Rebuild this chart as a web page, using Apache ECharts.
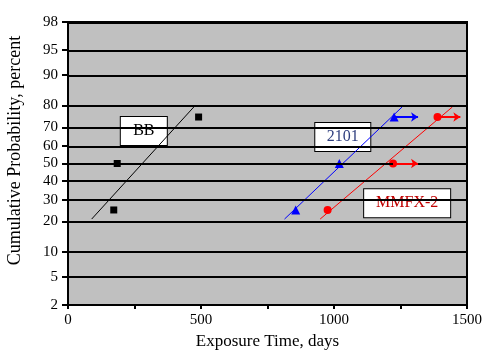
<!DOCTYPE html>
<html>
<head>
<meta charset="utf-8" />
<title>Cumulative Probability</title>
<script type="text/javascript" src="https://cdn.jsdelivr.net/npm/echarts@6/dist/echarts.min.js"></script>
<style>
  html, body { margin: 0; padding: 0; background: #fff; }
  #main { width: 493px; height: 353px; }
</style>
</head>
<body>
<div id="main"></div>
<script>
// 概率刻度 (percent)
var probTicks = [2, 5, 10, 20, 30, 40, 50, 60, 70, 80, 90, 95, 98];

// BB 数据
var bbTime = [172, 185, 491];
var bbProb = [25, 50, 75];
var bbFitTime = [89, 473];
var bbFitProb = [21, 79.4];

// 2101 数据
var t2101Time = [856, 1020, 1226];
var t2101Prob = [25, 50, 75];
var t2101FitTime = [814, 1256];
var t2101FitProb = [21, 79.4];
var t2101ArrowFrom = [1226];
var t2101ArrowTo = [1316];
var t2101ArrowProb = [75];

// MMFX-2 数据
var mmfxTime = [976, 1222, 1389];
var mmfxProb = [25, 50, 75];
var mmfxFitTime = [948, 1445];
var mmfxFitProb = [21, 79.4];
var mmfxArrowFrom = [1222, 1389];
var mmfxArrowTo = [1316, 1475];
var mmfxArrowProb = [50, 75];

// 正态概率纸: percent -> z (Acklam 近似)
function probit(pc) {
  var p = pc / 100;
  var a = [-3.969683028665376e+01, 2.209460984245205e+02, -2.759285104469687e+02, 1.383577518672690e+02, -3.066479806614716e+01, 2.506628277459239e+00];
  var b = [-5.447609879822406e+01, 1.615858368580409e+02, -1.556989798598866e+02, 6.680131188771972e+01, -1.328068155288572e+01];
  var c = [-7.784894002430293e-03, -3.223964580411365e-01, -2.400758277161838e+00, -2.549732539343734e+00, 4.374664141464968e+00, 2.938163982698783e+00];
  var d = [7.784695709041462e-03, 3.224671290700398e-01, 2.445134137142996e+00, 3.754408661907416e+00];
  var pl = 0.02425, q, r;
  if (p < pl) {
    q = Math.sqrt(-2 * Math.log(p));
    return (((((c[0]*q+c[1])*q+c[2])*q+c[3])*q+c[4])*q+c[5]) / ((((d[0]*q+d[1])*q+d[2])*q+d[3])*q+1);
  }
  if (p > 1 - pl) {
    q = Math.sqrt(-2 * Math.log(1 - p));
    return -(((((c[0]*q+c[1])*q+c[2])*q+c[3])*q+c[4])*q+c[5]) / ((((d[0]*q+d[1])*q+d[2])*q+d[3])*q+1);
  }
  q = p - 0.5; r = q * q;
  return (((((a[0]*r+a[1])*r+a[2])*r+a[3])*r+a[4])*r+a[5])*q / (((((b[0]*r+b[1])*r+b[2])*r+b[3])*r+b[4])*r+1);
}

function pts(xs, ps) {
  var out = [];
  for (var i = 0; i < xs.length; i++) out.push([xs[i], probit(ps[i])]);
  return out;
}
function arrows(from, to, ps) {
  var out = [];
  for (var i = 0; i < from.length; i++) {
    out.push([{ coord: [from[i], probit(ps[i])] }, { coord: [to[i], probit(ps[i])] }]);
  }
  return out;
}

var zTicks = probTicks.map(probit);
var zMin = zTicks[0], zMax = zTicks[zTicks.length - 1];
var serif = '"Liberation Serif", "DejaVu Serif", serif';

var chart = echarts.init(document.getElementById('main'));

// 水平网格线
var gridLines = zTicks.map(function (z) { return { yAxis: z }; });

function boxLabel(text, color, w) {
  return {
    show: true,
    formatter: text,
    color: color,
    fontFamily: serif,
    fontSize: 16,
    textBorderWidth: 0,
    backgroundColor: '#fff',
    borderColor: '#000',
    borderWidth: 1,
    width: w,
    height: 28,
    lineHeight: 28,
    align: 'center',
    verticalAlign: 'middle',
    position: 'inside'
  };
}

chart.setOption({
  animation: false,
  backgroundColor: '#fff',
  grid: {
    left: 68, right: 26, top: 22, bottom: 48,
    outerBoundsMode: 'none',
    containLabel: false,
    show: true,
    backgroundColor: '#c0c0c0',
    borderColor: '#000',
    borderWidth: 2
  },
  xAxis: {
    type: 'value',
    min: 0, max: 1500, interval: 250,
    name: 'Exposure Time, days',
    nameLocation: 'middle',
    nameGap: 23,
    nameTextStyle: { fontFamily: serif, fontSize: 17, color: '#000' },
    axisLine: { onZero: false, lineStyle: { color: '#000', width: 2 } },
    axisTick: { length: 4, lineStyle: { color: '#000', width: 2 } },
    axisLabel: {
      fontFamily: serif, fontSize: 15, color: '#000', margin: 8,
      formatter: function (v) { return v % 500 === 0 ? String(v) : ''; }
    },
    splitLine: { show: false }
  },
  yAxis: {
    type: 'value',
    min: zMin, max: zMax,
    name: 'Cumulative Probability, percent',
    nameLocation: 'middle',
    nameGap: 44,
    nameTextStyle: { fontFamily: serif, fontSize: 18, color: '#000', padding: [0, 0, 0, 26] },
    axisLine: { onZero: false, lineStyle: { color: '#000', width: 2 } },
    axisTick: { customValues: zTicks, length: 6, lineStyle: { color: '#000', width: 2 } },
    axisLabel: {
      customValues: zTicks,
      fontFamily: serif, fontSize: 15, color: '#000', margin: 10,
      formatter: function (v) {
        var best = 0;
        for (var i = 0; i < zTicks.length; i++) {
          if (Math.abs(zTicks[i] - v) < Math.abs(zTicks[best] - v)) best = i;
        }
        return String(probTicks[best]);
      }
    },
    splitLine: { show: false }
  },
  series: [
    {
      name: 'grid',
      type: 'line',
      data: [],
      silent: true,
      markLine: {
        silent: true,
        symbol: 'none',
        label: { show: false },
        lineStyle: { color: '#000', width: 2, type: 'solid' },
        data: gridLines
      }
    },
    {
      name: 'BB fit', type: 'line', data: pts(bbFitTime, bbFitProb),
      symbol: 'none', lineStyle: { color: '#000', width: 1 }, silent: true
    },
    {
      name: '2101 fit', type: 'line', data: pts(t2101FitTime, t2101FitProb),
      symbol: 'none', lineStyle: { color: '#0000ff', width: 1 }, silent: true,
      markLine: {
        symbol: ['none', 'arrow'], symbolSize: 7,
        label: { show: false },
        lineStyle: { color: '#0000ff', width: 2, type: 'solid' },
        data: arrows(t2101ArrowFrom, t2101ArrowTo, t2101ArrowProb)
      }
    },
    {
      name: 'MMFX-2 fit', type: 'line', data: pts(mmfxFitTime, mmfxFitProb),
      symbol: 'none', lineStyle: { color: '#ff0000', width: 1 }, silent: true,
      markLine: {
        symbol: ['none', 'arrow'], symbolSize: 7,
        label: { show: false },
        lineStyle: { color: '#ff0000', width: 2, type: 'solid' },
        data: arrows(mmfxArrowFrom, mmfxArrowTo, mmfxArrowProb)
      }
    },
    {
      name: 'BB', type: 'scatter', data: pts(bbTime, bbProb),
      symbol: 'rect', symbolSize: 7, itemStyle: { color: '#000', opacity: 1 }
    },
    {
      name: '2101', type: 'scatter', data: pts(t2101Time, t2101Prob),
      symbol: 'triangle', symbolSize: 9, itemStyle: { color: '#0000ff', opacity: 1 }
    },
    {
      name: 'MMFX-2', type: 'scatter', data: pts(mmfxTime, mmfxProb),
      symbol: 'circle', symbolSize: 8, itemStyle: { color: '#ff0000', opacity: 1 }
    },
    {
      name: 'labels', type: 'scatter', symbolSize: 1, silent: true,
      itemStyle: { color: 'rgba(0,0,0,0)', opacity: 1 },
      data: [
        { value: [285, 0.472], label: boxLabel('BB', '#000', 46) },
        { value: [1033, 0.386], label: boxLabel('2101', '#2f3f7f', 55) },
        { value: [1275, -0.577], label: boxLabel('MMFX-2', '#c00000', 86) }
      ]
    }
  ]
});
</script>
</body>
</html>
